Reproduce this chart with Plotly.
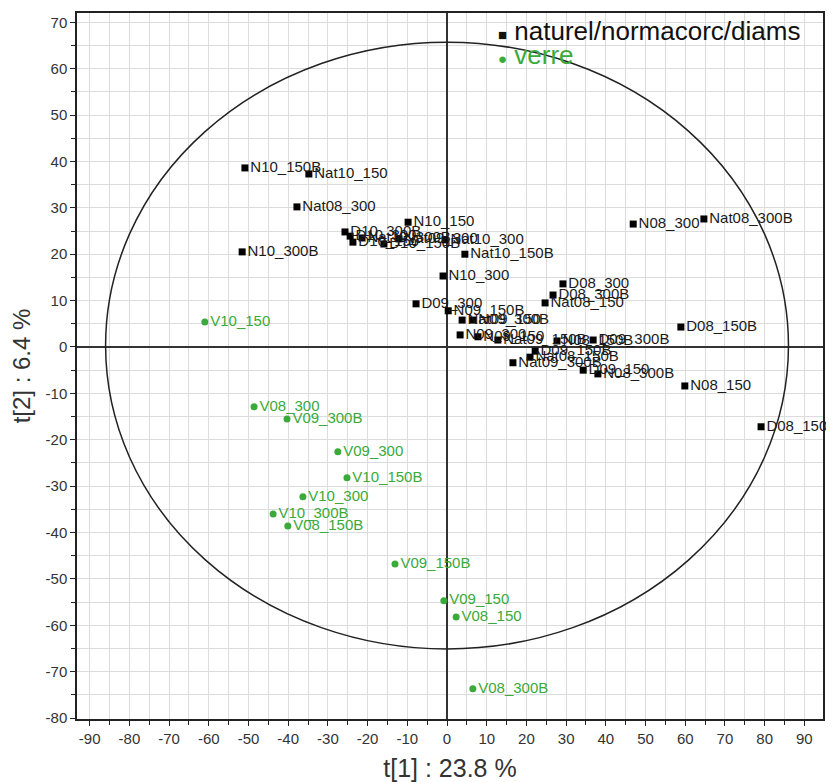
import plotly.graph_objects as go

# ---- data: black group (naturel / normacorc / diams) ----
black_names = ["N10_150B", "Nat10_150", "Nat08_300", "N10_300B", "N10_150",
               "D10_300B", "D10_300", "D10_150", "Nat10_300B", "D10_150B",
               "Nat09_300", "Nat10_300", "Nat10_150B", "N10_300", "D09_300",
               "N09_150B", "Nat09_150", "N09_300B", "N09_300", "N09_150",
               "Nat09_150B", "D08_300", "D08_300B", "Nat08_150", "N08_300",
               "Nat08_300B", "D08_150B", "N08_150", "D08_150", "N08_150B",
               "D09_300B", "D09_150B", "Nat08_150B", "Nat09_300B", "D09_150",
               "N08_300B"]
black_t1 = [-50.9, -34.8, -37.8, -51.6, -9.8,
            -25.7, -24.4, -23.7, -21.4, -15.9,
            -12.1, -0.5, 4.5, -1.0, -7.8,
            0.3, 3.8, 6.5, 3.3, 7.8,
            12.8, 29.2, 26.7, 24.7, 46.9,
            64.7, 58.9, 59.9, 79.1, 27.7,
            36.8, 22.2, 20.9, 16.6, 34.3,
            38.0]
black_t2 = [38.6, 37.3, 30.2, 20.5, 26.9,
            24.8, 23.9, 22.6, 23.5, 22.2,
            23.3, 23.1, 20.0, 15.3, 9.3,
            7.8, 5.8, 5.8, 2.6, 2.2,
            1.5, 13.6, 11.2, 9.5, 26.5,
            27.6, 4.3, -8.4, -17.2, 1.3,
            1.5, -0.9, -2.2, -3.4, -5.0,
            -5.8]

# ---- data: green group (verre) ----
green_names = ["V10_150", "V08_300", "V09_300B", "V09_300", "V10_150B", "V10_300",
               "V10_300B", "V08_150B", "V09_150B", "V09_150", "V08_150", "V08_300B"]
green_t1 = [-61.0, -48.6, -40.3, -27.5, -25.2, -36.3,
            -43.8, -40.1, -13.1, -0.8, 2.3, 6.5]
green_t2 = [5.4, -12.9, -15.5, -22.6, -28.2, -32.3,
            -36.0, -38.6, -46.8, -54.7, -58.2, -73.7]

# Hotelling ellipse semi-axes
ell_a = 86.0
ell_b = 65.4

x_ticks = list(range(-90, 100, 10))
x_tick_text = [str(v) for v in x_ticks]
y_ticks = list(range(-80, 80, 10))
y_tick_text = [str(v) for v in y_ticks]

legend_labels = ["naturel/normacorc/diams", "verre"]

GREEN = "#3aaa3a"
FONT = "Liberation Sans, Arial, sans-serif"

fig = go.Figure()

fig.add_trace(go.Scatter(
    x=black_t1, y=black_t2, mode="markers+text",
    text=black_names, textposition="middle right",
    textfont=dict(family=FONT, size=15, color="#1a1a1a"),
    marker=dict(symbol="square", size=7, color="black"),
    cliponaxis=False,
    name=legend_labels[0], hoverinfo="skip"))

fig.add_trace(go.Scatter(
    x=green_t1, y=green_t2, mode="markers+text",
    text=green_names, textposition="middle right",
    textfont=dict(family=FONT, size=15, color=GREEN),
    marker=dict(symbol="circle", size=7, color=GREEN),
    cliponaxis=False,
    name=legend_labels[1], hoverinfo="skip"))

fig.add_shape(type="circle", xref="x", yref="y",
              x0=-ell_a, x1=ell_a, y0=-ell_b + 0.3, y1=ell_b + 0.3,
              line=dict(color="#222222", width=1.5), layer="above")

axis_common = dict(
    automargin=False,
    showline=True, linecolor="#222222", linewidth=1.5, mirror=True,
    showgrid=True, gridcolor="#dcdcdc", gridwidth=1,
    zeroline=True, zerolinecolor="#333333", zerolinewidth=1.5,
    ticks="outside", ticklen=5, tickcolor="#222222",
    tickfont=dict(family=FONT, size=15, color="#333333"),
    minor=dict(dtick=5, showgrid=True, gridcolor="#dcdcdc", ticks="outside",
               ticklen=4, tickcolor="#222222"),
)

fig.update_xaxes(range=[-93.2, 94.7], tickvals=x_ticks, ticktext=x_tick_text,
                 title=dict(text="t[1] : 23.8 %", font=dict(family=FONT, size=25, color="#333333"),
                            standoff=18),
                 **axis_common)
fig.update_yaxes(range=[-80.2, 72], tickvals=y_ticks, ticktext=y_tick_text,
                 title=dict(text="t[2] : 6.4 %", font=dict(family=FONT, size=24, color="#333333"),
                            standoff=12),
                 **axis_common)

# legend drawn as annotations (tighter spacing than the built-in legend)
fig.add_annotation(xref="paper", yref="paper", x=0.561, y=0.975, xanchor="left", yanchor="middle",
                   showarrow=False, align="left",
                   text="<span style='font-size:15px'>■</span> " + legend_labels[0],
                   font=dict(family=FONT, size=26, color="#111111"))
fig.add_annotation(xref="paper", yref="paper", x=0.561, y=0.9405, xanchor="left", yanchor="middle",
                   showarrow=False, align="left",
                   text="<span style='font-size:15px'>●</span> " + legend_labels[1],
                   font=dict(family=FONT, size=26, color=GREEN))

# page body has an 8px margin, so the figure is 8px smaller and margins shifted
fig.update_layout(
    width=826, height=774,
    margin=dict(l=69, r=11, t=5, b=63),
    plot_bgcolor="white", paper_bgcolor="white",
    showlegend=False,
)

fig.write_html("out.html")
